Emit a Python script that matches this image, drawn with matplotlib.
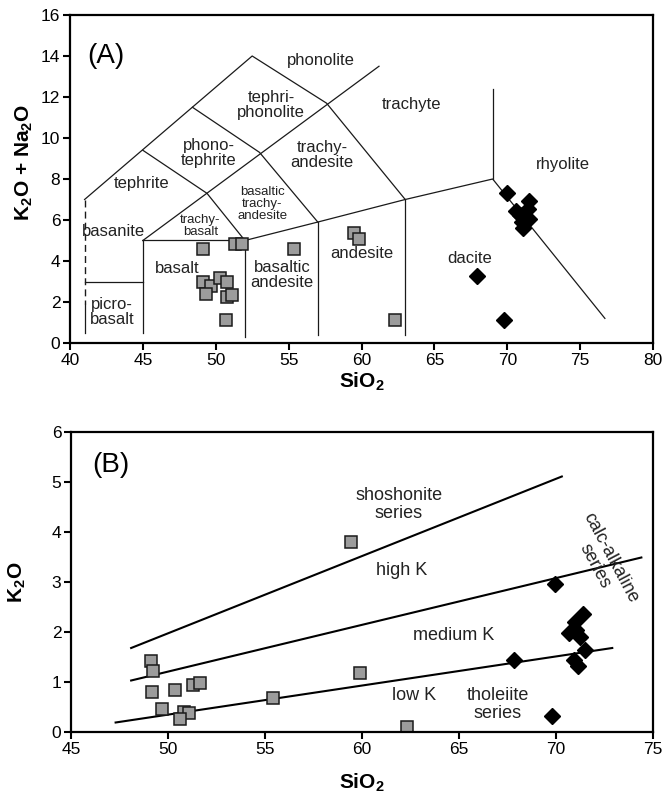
import matplotlib
matplotlib.use("Agg")
import matplotlib.pyplot as plt

plt.rcParams['font.family'] = ['Liberation Sans', 'DejaVu Sans']

# --- panel A: total alkali vs silica -------------------------------------
mafic_sio2_a = [49.1, 51.3, 51.8, 55.4, 49.1, 49.7, 50.3, 50.8, 49.3, 50.8, 51.1, 50.7, 59.5, 59.8, 62.3]
mafic_alk_a = [4.6, 4.85, 4.85, 4.6, 3.0, 2.8, 3.15, 3.0, 2.4, 2.25, 2.35, 1.1, 5.35, 5.05, 1.1]
felsic_sio2_a = [70.0, 71.5, 70.6, 70.9, 71.2, 71.5, 71.0, 71.1, 71.4, 67.9, 69.8]
felsic_alk_a = [7.3, 6.95, 6.45, 6.25, 6.15, 6.05, 5.9, 5.6, 6.55, 3.25, 1.1]

# TAS field boundaries (Le Bas et al.)
tas_lines = [
    [(41, 7), (52.5, 14), (57.6, 11.7), (63, 7), (69, 8), (76.7, 1.2)],
    [(45, 9.4), (49.4, 7.3), (52, 5)],
    [(48.4, 11.5), (53, 9.3), (57, 5.9)],
    [(45, 5), (61.2, 13.5)],
    [(45, 5), (52, 5), (57, 5.9), (63, 7)],
    [(69, 8), (69, 12.4)],
    [(45, 5), (45, 0.5)],
    [(52, 5), (52, 0.3)],
    [(57, 5.9), (57, 0.4)],
    [(63, 7), (63, 0.4)],
    [(41, 3), (45, 3)],
    [(41, 1.9), (41, 0.5)],
]
tas_dashed = [(41, 7), (41, 1.9)]

tas_names = [
    ("phonolite", 57.2, 13.8, 12),
    ("tephri-\nphonolite", 53.8, 11.6, 12),
    ("trachyte", 63.4, 11.65, 12),
    ("phono-\ntephrite", 49.5, 9.25, 12),
    ("trachy-\nandesite", 57.3, 9.15, 12),
    ("tephrite", 44.9, 7.8, 12),
    ("rhyolite", 73.8, 8.7, 12),
    ("basaltic\ntrachy-\nandesite", 53.2, 6.8, 9.5),
    ("trachy-\nbasalt", 48.95, 5.7, 9.5),
    ("basanite", 43.0, 5.45, 12),
    ("basalt", 47.35, 3.65, 12),
    ("basaltic\nandesite", 54.55, 3.3, 12),
    ("andesite", 60.05, 4.35, 12),
    ("dacite", 67.4, 4.1, 12),
    ("picro-\nbasalt", 42.9, 1.5, 12),
]

# --- panel B: K2O vs silica ----------------------------------------------
mafic_sio2_b = [49.1, 49.25, 49.15, 50.35, 49.7, 51.3, 51.65, 50.8, 51.1, 50.6, 55.4, 59.45, 59.9, 62.3]
mafic_k2o_b = [1.43, 1.23, 0.81, 0.85, 0.47, 0.95, 0.99, 0.41, 0.39, 0.27, 0.68, 3.81, 1.18, 0.11]
felsic_sio2_b = [69.95, 67.85, 69.8, 71.4, 71.0, 70.65, 71.05, 71.25, 71.5, 70.95, 71.15]
felsic_k2o_b = [2.97, 1.45, 0.33, 2.37, 2.21, 1.99, 2.05, 1.91, 1.65, 1.45, 1.33]

k_lines = [
    [(48.1, 1.68), (70.3, 5.11)],
    [(48.1, 1.03), (74.4, 3.49)],
    [(47.3, 0.19), (72.9, 1.68)],
]
k_names = [
    ("shoshonite\nseries", 61.9, 4.55),
    ("high K", 62.05, 3.23),
    ("medium K", 64.7, 1.93),
    ("low K", 62.7, 0.73),
    ("tholeiite\nseries", 67.0, 0.55),
]

fig = plt.figure(figsize=(6.65, 7.95), dpi=100)
axA = fig.add_axes([70 / 665, 1 - 343 / 795, 583 / 665, 328 / 795])
axB = fig.add_axes([71 / 665, 1 - 732 / 795, 582 / 665, 300 / 795])

sq = dict(marker='s', ls='none', ms=8, mfc='#9c9c9c', mec='#1a1a1a', mew=1.1)
dm = dict(marker='D', ls='none', ms=8, color='black')

for seg in tas_lines:
    xs, ys = zip(*seg)
    axA.plot(xs, ys, color='#1a1a1a', lw=0.9)
xs, ys = zip(*tas_dashed)
axA.plot(xs, ys, color='#1a1a1a', lw=1.0, ls=(0, (5, 3)))

axA.plot(mafic_sio2_a, mafic_alk_a, **sq)
axA.plot(felsic_sio2_a, felsic_alk_a, **dm)

for name, x, y, fs in tas_names:
    axA.text(x, y, name, fontsize=fs, ha='center', va='center', linespacing=1.0, color='#222')
axA.text(41.2, 14.0, "(A)", fontsize=20, ha='left', va='center')

axA.set_xlim(40, 80)
axA.set_ylim(0, 16)
axA.set_xticks(range(40, 81, 5))
axA.set_yticks(range(0, 17, 2))

for seg in k_lines:
    xs, ys = zip(*seg)
    axB.plot(xs, ys, color='black', lw=1.5)

axB.plot(mafic_sio2_b, mafic_k2o_b, **sq)
axB.plot(felsic_sio2_b, felsic_k2o_b, **dm)

for name, x, y in k_names:
    axB.text(x, y, name, fontsize=13, ha='center', va='center', linespacing=1.1, color='#222')
axB.text(72.4, 3.4, "calc-alkaline\nseries", fontsize=13, ha='center', va='center',
         rotation=-62, rotation_mode='anchor', linespacing=1.1, color='#222')
axB.text(46.1, 5.35, "(B)", fontsize=20, ha='left', va='center')

axB.set_xlim(45, 75)
axB.set_ylim(0, 6)
axB.set_xticks(range(45, 76, 5))
axB.set_yticks(range(0, 7))

for ax in (axA, axB):
    for sp in ax.spines.values():
        sp.set_linewidth(1.6)
    ax.tick_params(direction='out', length=5, width=1.5, labelsize=12.5, pad=2)
    ax.set_xlabel(r'SiO$_\mathregular{2}$', fontsize=15, fontweight='bold')

axA.xaxis.set_label_coords(0.5, -0.085)
axB.xaxis.set_label_coords(0.5, -0.13)
axA.set_ylabel(r'K$_\mathregular{2}$O + Na$_\mathregular{2}$O', fontsize=15, fontweight='bold')
axA.yaxis.set_label_coords(-0.06, 0.55)
axB.set_ylabel(r'K$_\mathregular{2}$O', fontsize=15, fontweight='bold')
axB.yaxis.set_label_coords(-0.074, 0.5)

fig.savefig('out.png', dpi=100)
